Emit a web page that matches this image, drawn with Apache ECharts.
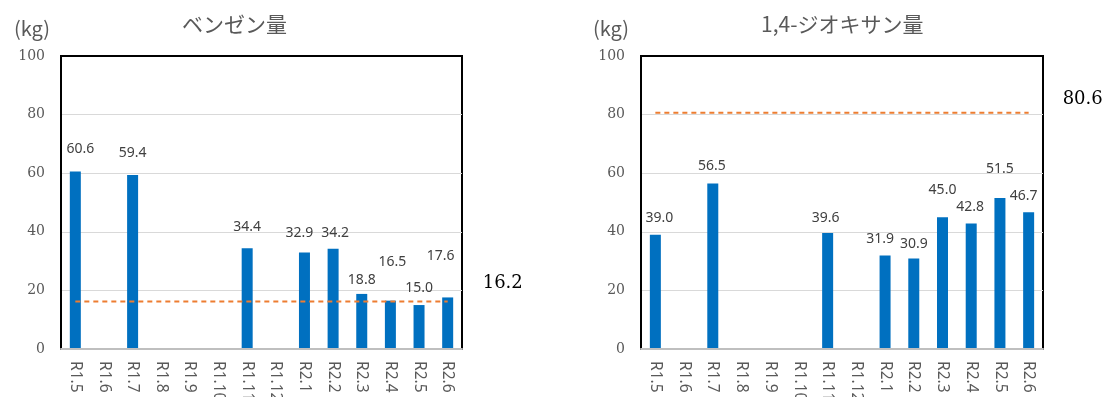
<!DOCTYPE html>
<html>
<head>
<meta charset="utf-8">
<script src="https://cdn.jsdelivr.net/npm/echarts@6/dist/echarts.min.js"></script>
<style>
  html, body { margin: 0; padding: 0; background: #fff; }
  #chart { width: 1113px; height: 397px; }
</style>
</head>
<body>
<div id="chart"></div>
<script>
// 月（令和）
const months = ["R1.5", "R1.6", "R1.7", "R1.8", "R1.9", "R1.10", "R1.11", "R1.12", "R2.1", "R2.2", "R2.3", "R2.4", "R2.5", "R2.6"];
// ベンゼン量 (kg)
const benzene = [60.6, "-", 59.4, "-", "-", "-", 34.4, "-", 32.9, 34.2, 18.8, 16.5, 15.0, 17.6];
const benzeneLimit = 16.2;
// 1,4-ジオキサン量 (kg)
const dioxane = [39.0, "-", 56.5, "-", "-", "-", 39.6, "-", 31.9, 30.9, 45.0, 42.8, 51.5, 46.7];
const dioxaneLimit = 80.6;
const yTicks = [0, 20, 40, 60, 80, 100];

// ラベルの微調整 [dx, dy]
const benzeneNudge = [[5, -10], [0, 0], [0, -10], [0, 0], [0, 0], [0, 0], [0, -9], [0, 0], [-5, -8], [2, -4], [0, -2], [2, -27], [0, -5], [-7, -29]];
const dioxaneNudge = [[4, -5], [0, 0], [-1, -5], [0, 0], [0, 0], [0, 0], [-2, -3], [0, 0], [-5, -5], [0, -2], [0, -15], [-1, -5], [0, -17], [-5, -4]];

const grey = "#595959";

function barData(vals, nudge) {
  return vals.map((v, i) => v === "-" ? "-" : { value: v, label: { offset: nudge[i] } });
}

function xAxisFor(idx) {
  return {
    type: "category",
    gridIndex: idx,
    data: months,
    axisTick: { show: false },
    axisLine: { lineStyle: { color: "#bfbfbf", width: 2 } },
    z: 5,
    axisLabel: {
      rotate: -90,
      interval: 0,
      margin: 12,
      color: grey,
      fontFamily: "Noto Sans",
      fontSize: 15.5
    }
  };
}

function yAxisFor(idx) {
  return {
    type: "value",
    gridIndex: idx,
    min: yTicks[0],
    max: yTicks[yTicks.length - 1],
    interval: 20,
    axisLine: { show: true, lineStyle: { color: "#000", width: 2 } },
    axisTick: { show: false },
    splitLine: { showMinLine: false, showMaxLine: false, lineStyle: { color: "#d9d9d9", width: 1 } },
    axisLabel: {
      margin: 16,
      color: grey,
      fontFamily: "DejaVu Serif",
      fontSize: 14
    }
  };
}

function barSeries(idx, vals, nudge) {
  return {
    type: "bar",
    xAxisIndex: idx,
    yAxisIndex: idx,
    data: barData(vals, nudge),
    barWidth: 11,
    itemStyle: { color: "#0070C0" },
    label: {
      show: true,
      position: "top",
      formatter: p => p.value.toFixed(1),
      color: "#404040",
      fontFamily: "Noto Sans",
      fontSize: 14
    }
  };
}

function limitSeries(idx, limit, offset) {
  return {
    type: "line",
    xAxisIndex: idx,
    yAxisIndex: idx,
    data: months.map(() => limit),
    showSymbol: false,
    symbol: "none",
    lineStyle: { color: "#ED7D31", width: 2, type: [5, 4] },
    z: 3,
    endLabel: {
      show: true,
      formatter: limit.toFixed(1),
      offset: offset,
      color: "#000",
      fontFamily: "DejaVu Serif",
      fontSize: 18
    }
  };
}

const titleStyle = { fontFamily: "Noto Sans CJK JP", fontWeight: "normal", fontSize: 21, color: grey };
const unitStyle = { fontFamily: "Noto Sans CJK JP", fontWeight: "normal", fontSize: 20, color: grey };

const myChart = echarts.init(document.getElementById("chart"));
myChart.setOption({
  animation: false,
  title: [
    { text: "ベンゼン量", left: 177, top: 9, textStyle: titleStyle },
    { text: "(kg)", left: 9, top: 13, textStyle: unitStyle },
    { text: "1,4-ジオキサン量", left: 756, top: 9, textStyle: titleStyle },
    { text: "(kg)", left: 588, top: 13, textStyle: unitStyle }
  ],
  grid: [
    { left: 61, right: 651, top: 56, bottom: 48, outerBoundsMode: "none", containLabel: false, show: true, borderColor: "#000", borderWidth: 2, backgroundColor: "#fff" },
    { left: 641, right: 70, top: 56, bottom: 48, outerBoundsMode: "none", containLabel: false, show: true, borderColor: "#000", borderWidth: 2, backgroundColor: "#fff" }
  ],
  xAxis: [xAxisFor(0), xAxisFor(1)],
  yAxis: [yAxisFor(0), yAxisFor(1)],
  series: [
    barSeries(0, benzene, benzeneNudge),
    limitSeries(0, benzeneLimit, [27, -18]),
    barSeries(1, dioxane, dioxaneNudge),
    limitSeries(1, dioxaneLimit, [26, -14])
  ]
});
</script>
</body>
</html>
